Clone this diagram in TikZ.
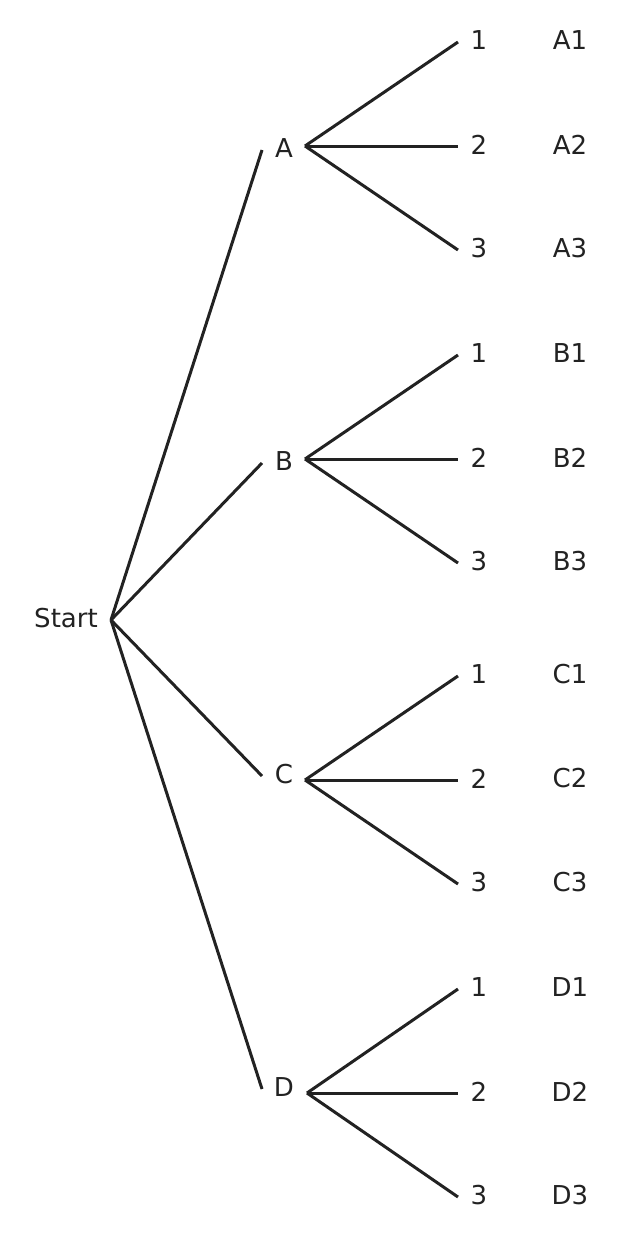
\documentclass[tikz,border=0pt]{standalone}
\usepackage{fontspec}
\setmainfont{DejaVu Sans}
\definecolor{ink}{HTML}{222222}
\begin{document}
\begin{tikzpicture}[x=1pt,y=-1pt,
  lbl/.style={inner sep=0pt,text=ink,font=\fontsize{26}{31}\selectfont,yshift=1.5pt},
  edge/.style={draw=ink,line width=3pt,line cap=butt}]
\useasboundingbox (0,0) rectangle (624,1240);
\node[lbl] (start) at (66,620) {Start};
\coordinate (s0) at (111,620);
\foreach \n/\L/\y/\by/\bx in {a/A/150/146/305, b/B/463/459/305, c/C/776/780/305, d/D/1089/1093/307}{
  \node[lbl] (\n) at (284,\y) {\L};
  \coordinate (\n in) at (262,\y);
  \coordinate (\n out) at (\bx,\by);
  \draw[edge] (s0) -- (\n in);
  \foreach \k/\dy in {1/-104,2/0,3/104}{
    \coordinate (\n\k e) at (458,\by+\dy);
    \node[lbl] (\n\k) at (479,\by+\dy) {\k};
    \node[lbl] (\n\k r) at (570,\by+\dy) {\L\k};
    \draw[edge] (\n out) -- (\n\k e);
  }
}
\end{tikzpicture}
\end{document}
